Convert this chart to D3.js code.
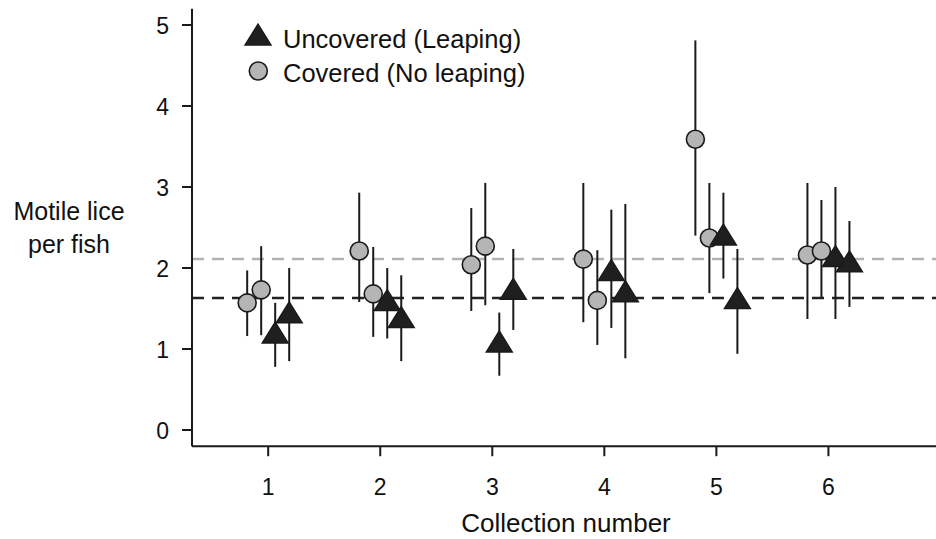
<!DOCTYPE html>
<html>
<head>
<meta charset="utf-8">
<script src="https://cdn.jsdelivr.net/npm/d3@7"></script>
<style>
  html, body { margin: 0; padding: 0; background: #fff; }
  svg { display: block; font-family: "Liberation Sans", Arial, sans-serif; }
</style>
</head>
<body>
<svg id="chart" width="936" height="539"></svg>
<script>
// ---- data ----
const collections = [1, 2, 3, 4, 5, 6];
const xTicks = [1, 2, 3, 4, 5, 6];
const yTicks = [0, 1, 2, 3, 4, 5];

// Covered (No leaping): two replicates per collection
const coveredA      = [1.57, 2.21, 2.04, 2.11, 3.59, 2.16];
const coveredALow   = [1.16, 1.58, 1.47, 1.33, 2.40, 1.37];
const coveredAHigh  = [1.97, 2.93, 2.74, 3.05, 4.81, 3.05];
const coveredB      = [1.73, 1.68, 2.27, 1.60, 2.37, 2.21];
const coveredBLow   = [1.17, 1.15, 1.54, 1.05, 1.69, 1.64];
const coveredBHigh  = [2.27, 2.26, 3.05, 2.22, 3.05, 2.84];

// Uncovered (Leaping): two replicates per collection
const uncoveredA     = [1.16, 1.56, 1.05, 1.93, 2.37, 2.105];
const uncoveredALow  = [0.78, 1.13, 0.67, 1.26, 1.87, 1.37];
const uncoveredAHigh = [1.57, 2.00, 1.45, 2.72, 2.93, 3.00];
const uncoveredB     = [1.41, 1.35, 1.70, 1.67, 1.585, 2.04];
const uncoveredBLow  = [0.85, 0.85, 1.235, 0.885, 0.94, 1.52];
const uncoveredBHigh = [2.00, 1.91, 2.235, 2.79, 2.235, 2.58];

// overall means (dashed reference lines)
const meanCovered = 2.11;
const meanUncovered = 1.63;

const legendLabels = ["Uncovered (Leaping)", "Covered (No leaping)"];
const xTitle = "Collection number";
const yTitleLines = ["Motile lice", "per fish"];

// ---- layout ----
const svg = d3.select("#chart");
const x = d3.scaleLinear().domain([0.32, 6.96]).range([192, 936]);
const y = d3.scaleLinear().domain([-0.2, 5.2]).range([446.2, 8.8]);
const offsets = [-0.1875, -0.0625, 0.0625, 0.1875];

const series = [
  {type: "circle", off: offsets[0], v: coveredA, lo: coveredALow, hi: coveredAHigh},
  {type: "circle", off: offsets[1], v: coveredB, lo: coveredBLow, hi: coveredBHigh},
  {type: "tri",    off: offsets[2], v: uncoveredA, lo: uncoveredALow, hi: uncoveredAHigh},
  {type: "tri",    off: offsets[3], v: uncoveredB, lo: uncoveredBLow, hi: uncoveredBHigh}
];

const circleFill = "#b5b5b5";
const triFill = "#1f1f1f";
const ink = "#1a1a1a";

// triangle path with centroid at origin
const triW = 26, triH = 21;
const triPath = `M0,${-2*triH/3} L${triW/2},${triH/3} L${-triW/2},${triH/3} Z`;

// ---- reference lines ----
svg.append("line")
  .attr("x1", x(0.32)).attr("x2", 936)
  .attr("y1", y(meanCovered)).attr("y2", y(meanCovered))
  .attr("stroke", "#b3b3b3").attr("stroke-width", 2.5)
  .attr("stroke-dasharray", "12,8");
svg.append("line")
  .attr("x1", x(0.32)).attr("x2", 936)
  .attr("y1", y(meanUncovered)).attr("y2", y(meanUncovered))
  .attr("stroke", "#222").attr("stroke-width", 2.5)
  .attr("stroke-dasharray", "12,8");

// ---- error bars ----
const gErr = svg.append("g");
series.forEach(s => {
  gErr.selectAll(null).data(collections).enter().append("line")
    .attr("x1", (c) => x(c + s.off)).attr("x2", (c) => x(c + s.off))
    .attr("y1", (c, i) => y(s.lo[i])).attr("y2", (c, i) => y(s.hi[i]))
    .attr("stroke", ink).attr("stroke-width", 2);
});

// ---- points ----
const gPts = svg.append("g");
collections.forEach((c, i) => {
  series.forEach(s => {
    if (s.type === "circle") {
      gPts.append("circle")
        .attr("cx", x(c + s.off)).attr("cy", y(s.v[i])).attr("r", 9)
        .attr("fill", circleFill).attr("stroke", ink).attr("stroke-width", 1.6);
    } else {
      gPts.append("path")
        .attr("d", triPath)
        .attr("transform", `translate(${x(c + s.off)},${y(s.v[i])})`)
        .attr("fill", triFill).attr("stroke", ink).attr("stroke-width", 1.4);
    }
  });
});

// ---- axes ----
const axisColor = "#1a1a1a";
svg.append("line")
  .attr("x1", x(0.32)).attr("x2", x(0.32))
  .attr("y1", y(5.2)).attr("y2", y(-0.2))
  .attr("stroke", axisColor).attr("stroke-width", 2);
svg.append("line")
  .attr("x1", x(0.32)).attr("x2", 936)
  .attr("y1", y(-0.2)).attr("y2", y(-0.2))
  .attr("stroke", axisColor).attr("stroke-width", 2);

const yAxis = svg.append("g");
yAxis.selectAll("line").data(yTicks).enter().append("line")
  .attr("x1", x(0.32) - 10).attr("x2", x(0.32))
  .attr("y1", d => y(d)).attr("y2", d => y(d))
  .attr("stroke", axisColor).attr("stroke-width", 2);
yAxis.selectAll("text").data(yTicks).enter().append("text")
  .attr("x", 169).attr("y", d => y(d) + 8.5)
  .attr("text-anchor", "end").attr("font-size", 23).attr("fill", "#111")
  .text(d => d);

const xAxis = svg.append("g");
xAxis.selectAll("line").data(xTicks).enter().append("line")
  .attr("x1", d => x(d)).attr("x2", d => x(d))
  .attr("y1", y(-0.2)).attr("y2", y(-0.2) + 10)
  .attr("stroke", axisColor).attr("stroke-width", 2);
xAxis.selectAll("text").data(xTicks).enter().append("text")
  .attr("x", d => x(d)).attr("y", 495)
  .attr("text-anchor", "middle").attr("font-size", 23).attr("fill", "#111")
  .text(d => d);

// ---- titles ----
svg.append("text")
  .attr("x", 566).attr("y", 532)
  .attr("text-anchor", "middle").attr("font-size", 26).attr("fill", "#111")
  .text(xTitle);
svg.selectAll(".ytitle").data(yTitleLines).enter().append("text")
  .attr("class", "ytitle")
  .attr("x", 69).attr("y", (d, i) => 220 + i * 33)
  .attr("text-anchor", "middle").attr("font-size", 25).attr("fill", "#111")
  .text(d => d);

// ---- legend ----
const leg = svg.append("g");
leg.append("path").attr("d", triPath)
  .attr("transform", "translate(258,38)")
  .attr("fill", triFill).attr("stroke", ink).attr("stroke-width", 1.4);
leg.append("circle").attr("cx", 258.3).attr("cy", 71).attr("r", 9)
  .attr("fill", circleFill).attr("stroke", ink).attr("stroke-width", 1.6);
leg.selectAll("text").data(legendLabels).enter().append("text")
  .attr("x", 283).attr("y", (d, i) => 48 + i * 33.5)
  .attr("font-size", 25.5).attr("fill", "#111")
  .text(d => d);
</script>
</body>
</html>
